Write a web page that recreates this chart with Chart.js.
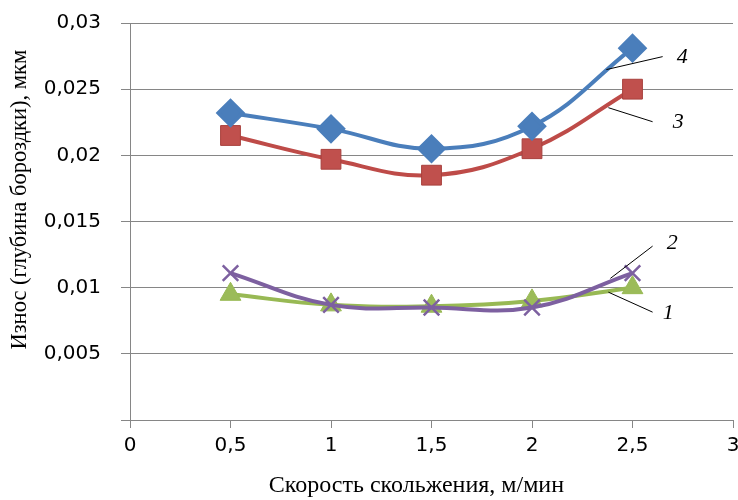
<!DOCTYPE html>
<html>
<head>
<meta charset="utf-8">
<script src="https://cdn.jsdelivr.net/npm/chart.js@4"></script>
<style>
  body { margin: 0; background: #fff; }
  #wear { display: block; }
</style>
</head>
<body>
<canvas id="wear" width="738" height="500"></canvas>
<script>
// скорость скольжения, м/мин
var speeds = [0.5, 1, 1.5, 2, 2.5];

// износ по кривым 1..4
var curve1 = [0.0095, 0.0087, 0.0086, 0.0090, 0.0100];
var curve2 = [0.0111, 0.0087, 0.0085, 0.0085, 0.0111];
var curve3 = [0.0215, 0.0197, 0.0185, 0.0205, 0.0250];
var curve4 = [0.0232, 0.0220, 0.0205, 0.0222, 0.0281];

var curveNames = ['1', '2', '3', '4'];

var xTitle = 'Скорость скольжения, м/мин';
var yTitle = 'Износ (глубина бороздки), мкм';

// выноски с номерами кривых (в единицах осей)
var calloutFrom = [[2.38, 0.00966], [2.39, 0.0107], [2.38, 0.0236], [2.37, 0.02648]];
var calloutTo   = [[2.60, 0.00815], [2.60, 0.01314], [2.60, 0.02254], [2.65, 0.02746]];
var calloutText = [[2.65, 0.00806], [2.67, 0.01337], [2.70, 0.02254], [2.72, 0.0274]];

function toPoints(ys) {
    return speeds.map(function(x, i) { return { x: x, y: ys[i] }; });
}

var callouts = {
    id: 'callouts',
    afterDatasetsDraw: function(chart) {
        var ctx = chart.ctx;
        var xs = chart.scales.x, ys = chart.scales.y;
        ctx.save();
        ctx.strokeStyle = '#000';
        ctx.lineWidth = 1;
        ctx.fillStyle = '#000';
        ctx.font = 'italic 22px "Liberation Serif"';
        ctx.textBaseline = 'middle';
        ctx.textAlign = 'left';
        for (var i = 0; i < curveNames.length; i++) {
            ctx.beginPath();
            ctx.moveTo(xs.getPixelForValue(calloutFrom[i][0]), ys.getPixelForValue(calloutFrom[i][1]));
            ctx.lineTo(xs.getPixelForValue(calloutTo[i][0]), ys.getPixelForValue(calloutTo[i][1]));
            ctx.stroke();
            ctx.fillText(curveNames[i], xs.getPixelForValue(calloutText[i][0]), ys.getPixelForValue(calloutText[i][1]));
        }
        ctx.restore();
    }
};

// подписи осей (смещены как в оригинале)
var axisTitles = {
    id: 'axisTitles',
    afterDraw: function(chart) {
        var ctx = chart.ctx;
        var a = chart.chartArea;
        ctx.save();
        ctx.fillStyle = '#000';
        ctx.textAlign = 'center';
        ctx.textBaseline = 'middle';
        ctx.font = '24px "Liberation Serif"';
        ctx.fillText(xTitle, a.left + (a.right - a.left) * 0.475, 486);
        ctx.font = '22.5px "Liberation Serif"';
        ctx.translate(20, a.top + (a.bottom - a.top) * 0.445);
        ctx.rotate(-Math.PI / 2);
        ctx.fillText(yTitle, 0, 0);
        ctx.restore();
    }
};

var ctx = document.getElementById('wear').getContext('2d');
var wearChart = new Chart(ctx, {
    type: 'line',
    data: {
        datasets: [{
            label: '4',
            data: toPoints(curve4),
            borderColor: '#4a7ebb',
            backgroundColor: '#4a7ebb',
            borderWidth: 4,
            pointStyle: 'rectRot',
            pointRadius: 12,
            tension: 0.4
        },
        {
            label: '3',
            data: toPoints(curve3),
            borderColor: '#be4b48',
            backgroundColor: '#c0504d',
            pointBorderColor: '#a8403d',
            borderWidth: 4,
            pointStyle: 'rect',
            pointRadius: 14,
            pointBorderWidth: 1,
            tension: 0.4
        },
        {
            label: '2',
            data: toPoints(curve2),
            borderColor: '#7d60a0',
            backgroundColor: '#7d60a0',
            borderWidth: 4,
            pointStyle: 'crossRot',
            pointRadius: 11,
            pointBorderWidth: 2.5,
            tension: 0.4
        },
        {
            label: '1',
            data: toPoints(curve1),
            borderColor: '#98b954',
            backgroundColor: '#9bbb59',
            borderWidth: 4,
            pointStyle: 'triangle',
            pointRadius: 12,
            pointBorderWidth: 1,
            tension: 0.4
        }]
    },
    options: {
        responsive: false,
        animation: false,
        layout: { autoPadding: false, padding: { top: 23, right: 5, left: 4, bottom: 2 } },
        plugins: {
            legend: { display: false },
            tooltip: { enabled: false }
        },
        scales: {
            x: {
                type: 'linear',
                min: 0,
                max: 3,
                afterFit: function(scale) {
                    scale.height = 78;
                    scale.paddingLeft = 0;
                    scale.paddingRight = 0;
                },
                ticks: {
                    stepSize: 0.5,
                    color: '#000',
                    font: { family: '"DejaVu Sans"', size: 20 },
                    padding: 6,
                    maxRotation: 0,
                    callback: function(v) { return String(v).replace('.', ','); }
                },
                grid: { drawOnChartArea: false, drawTicks: true, tickLength: 8, color: '#868686' },
                border: { color: '#868686', width: 1 }
            },
            y: {
                min: 0,
                max: 0.03,
                afterFit: function(scale) {
                    scale.width = 126;
                    scale.paddingTop = 0;
                    scale.paddingBottom = 0;
                },
                ticks: {
                    stepSize: 0.005,
                    color: '#000',
                    font: { family: '"DejaVu Sans"', size: 20 },
                    padding: 20,
                    callback: function(v) { return v === 0 ? '' : String(+v.toFixed(3)).replace('.', ','); }
                },
                grid: { color: '#868686', tickLength: 9 },
                border: { color: '#868686', width: 1 }
            }
        }
    },
    plugins: [callouts, axisTitles]
});
</script>
</body>
</html>
